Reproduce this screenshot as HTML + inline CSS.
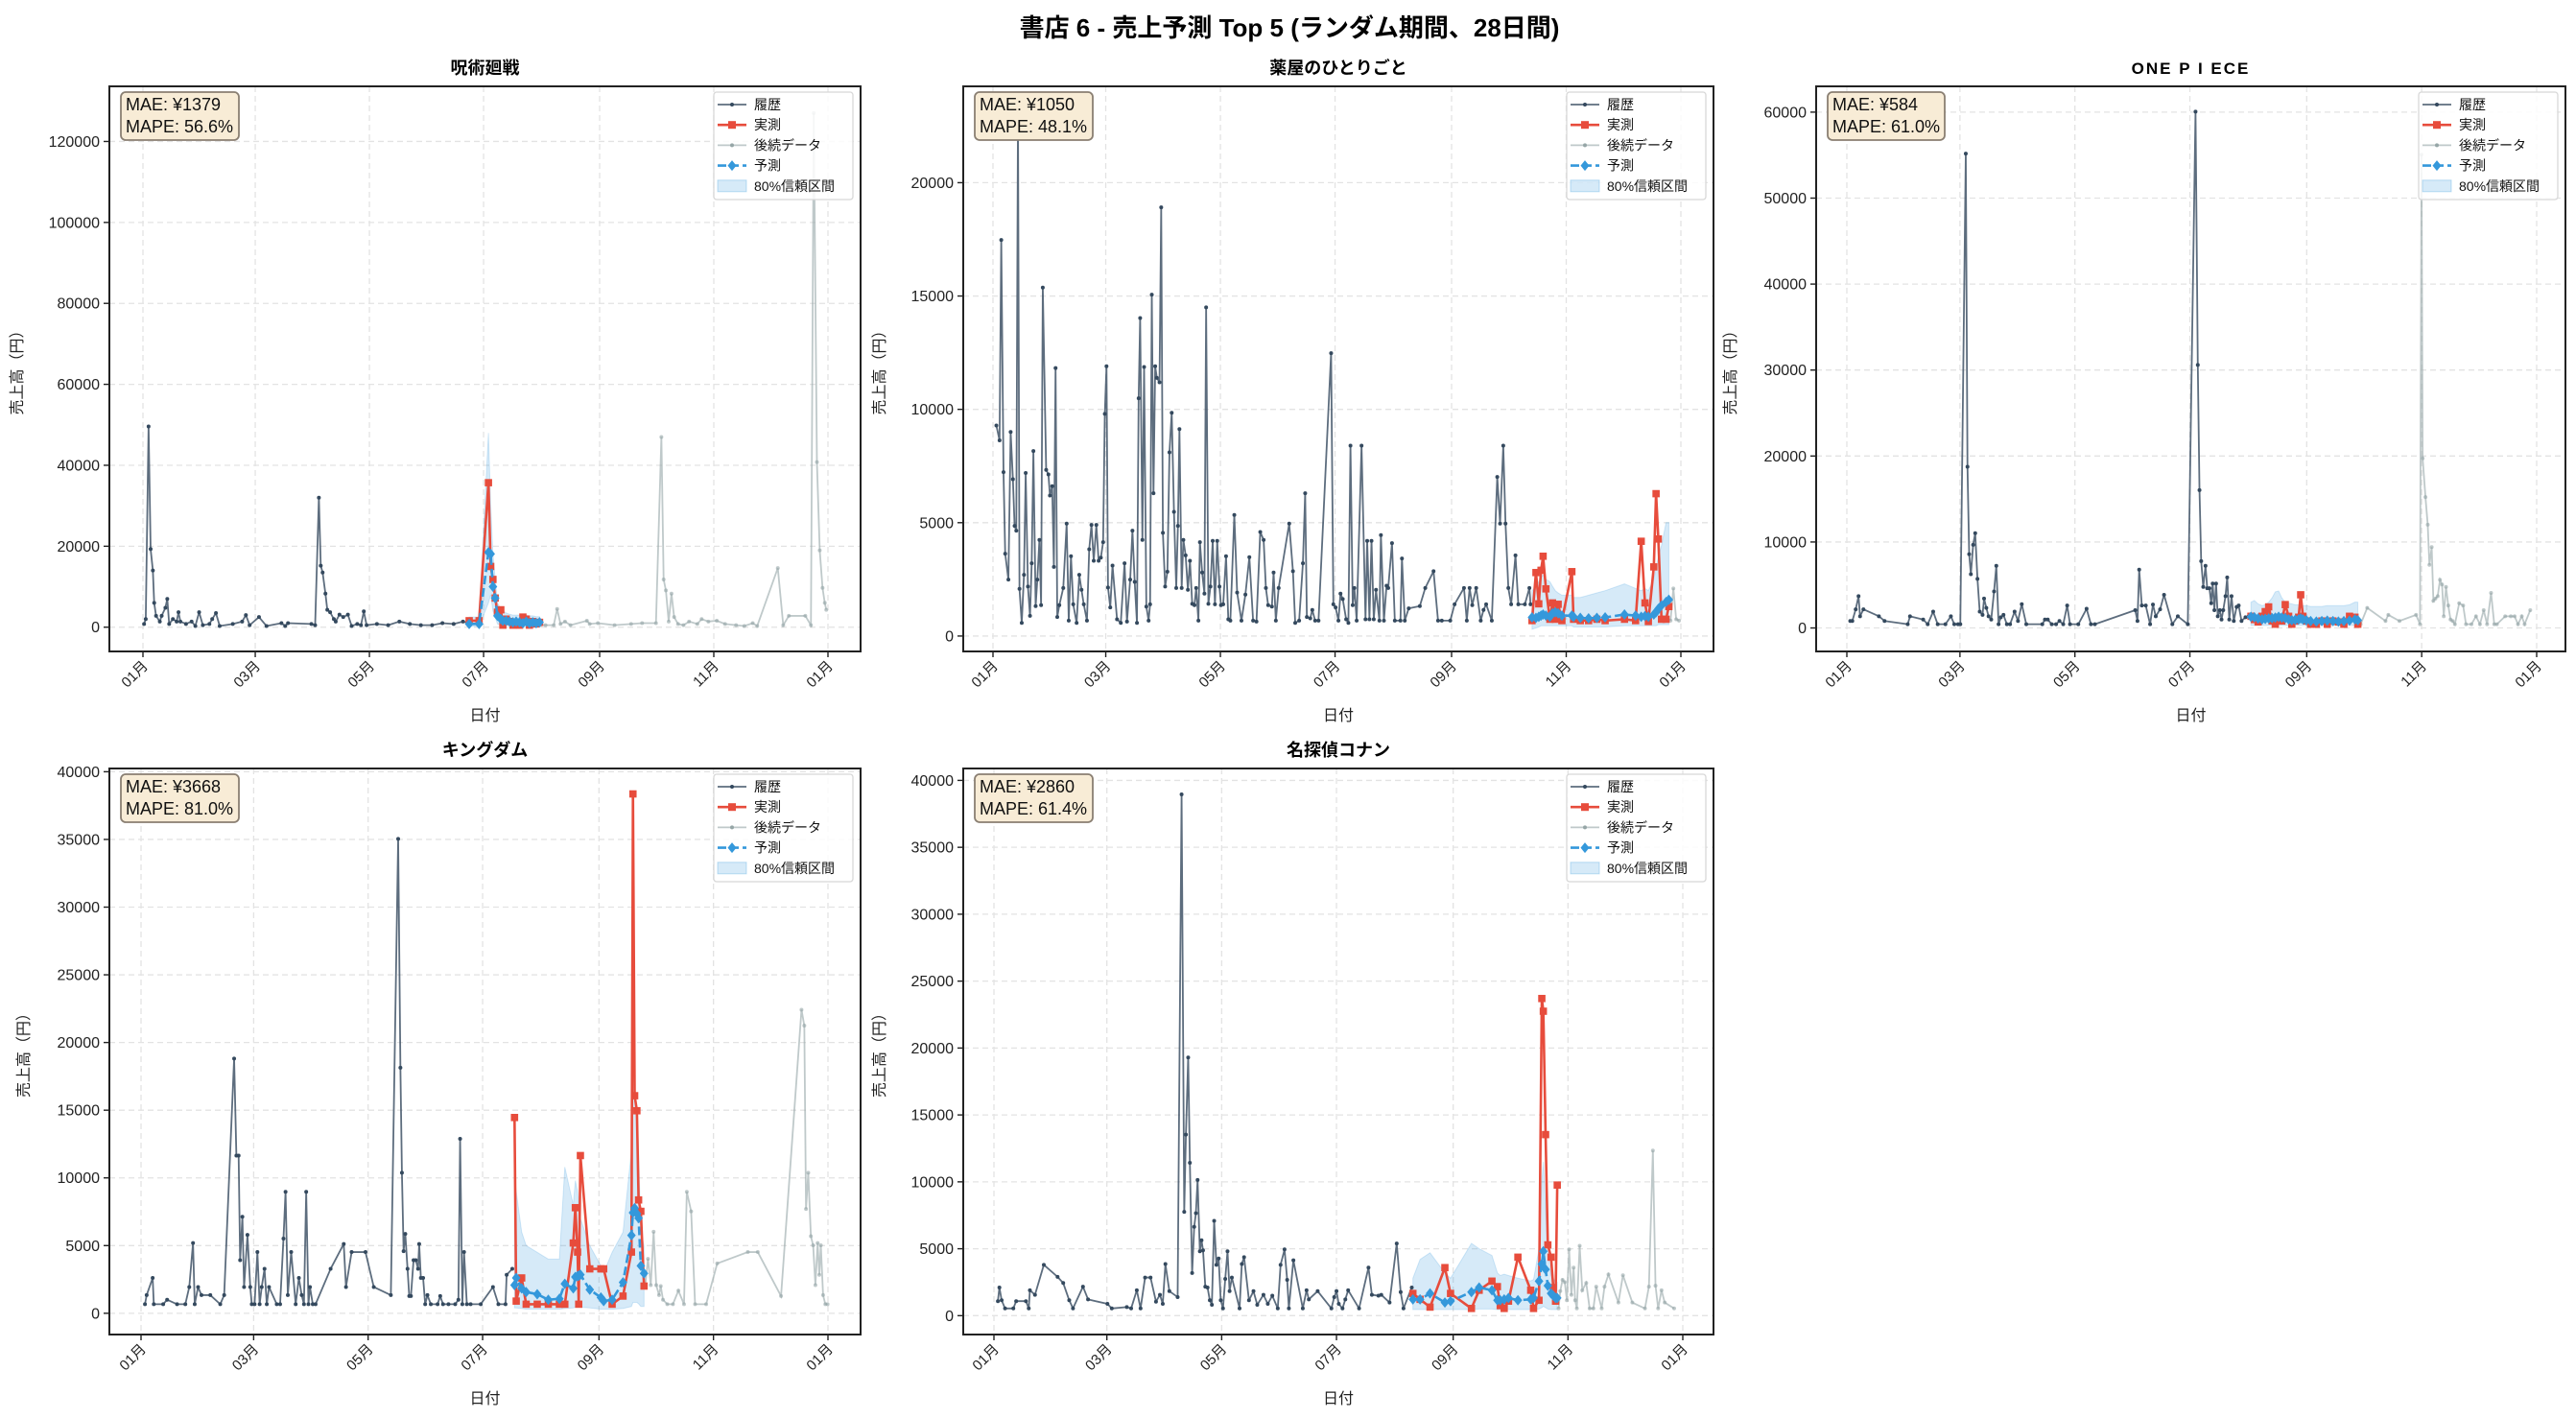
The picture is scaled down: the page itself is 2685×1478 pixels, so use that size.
<!DOCTYPE html>
<html><head><meta charset="utf-8">
<style>
html,body{margin:0;padding:0;background:#fff;}
svg{display:block;font-family:"Liberation Sans","Noto Sans CJK JP",sans-serif;}
</style></head>
<body>
<svg id="fig" width="2685" height="1478" viewBox="0 0 2685 1478" xmlns="http://www.w3.org/2000/svg">
<rect x="0" y="0" width="2685" height="1478" fill="#fff"/>
<text x="1344" y="38" text-anchor="middle" font-size="26" font-weight="bold" fill="#000">書店 6 - 売上予測 Top 5 (ランダム期間、28日間)</text>
</svg>
<script>
// ---------- tick data ----------
const xTickDays = [0,60,121,182,244,305,366];
const xTickLabels = ["01月","03月","05月","07月","09月","11月","01月"];

// ---------- Panel 1: 呪術廻戦 ----------
const p1HistDays=[0.6,1.5,3,4.1,5.3,6,7,9,10,12,13,14,16,18,19,20,23,26,28,30,32,35.5,37,39,41,48,53,55,57,62,66,74,76,77.5,90,92,94,95,96,97.5,98.5,100,102,103,105,107,109.5,111.5,114.5,116.5,118,119.5,125,131,137,142.6,148.5,154.5,160,166,171,174];
const p1HistVals=[800,2000,49600,19300,14000,6000,2800,1400,2800,4800,7000,800,2000,1400,3700,1400,800,1400,300,3700,500,800,2000,3500,300,800,1400,3000,500,2500,300,1000,300,1000,800,500,32000,15200,13500,8300,4300,3700,2000,1400,3100,2500,3100,300,800,500,3900,500,800,500,1400,800,500,500,1000,800,1400,1000];
const p1ActDays=[174.3,179.6,184.6,185.8,187,188.2,189.4,191.2,192.3,194.1,195.9,197.7,199.4,201.2,203,204.8,206.5,208.3,210.1,211.9];
const p1ActVals=[1600,1600,35700,15000,11800,7200,3700,4300,500,2000,1400,500,800,500,2500,2000,500,1400,800,1200];
const p1FcVals=[800,800,18500,18100,10000,7200,2800,2000,1600,1600,1400,1200,1400,1200,1000,1400,1000,1200,1000,1200];
const p1UpVals=[2500,2500,48000,30000,18000,12000,6000,4500,4000,3500,3200,3000,3000,3000,2800,3000,2800,2800,2600,2600];
const p1LoVals=[200,200,6000,8000,4000,2500,800,500,400,400,400,300,300,300,300,300,300,300,300,300];
const p1PostDays=[212.2,215.1,219.5,221.3,223.1,225.5,228.4,237.2,238.7,243.1,252,260.8,266.7,274.1,277,278.2,279.4,280.9,282.4,283.8,285.9,288.8,291.8,296.2,298.5,302.1,306.6,311,316.9,321.3,325.8,328.2,339.2,342.1,345.1,353.9,356.9,358.4,360.1,361.6,363.1,364.3,365.1];
const p1PostVals=[500,500,500,4500,800,1400,500,1600,800,1000,500,800,1000,1000,47000,11800,9100,1400,8300,2500,800,500,1400,800,2000,1400,1600,800,500,300,1000,300,14600,500,2800,2800,500,127000,40800,19000,9700,6000,4300];

// ---------- Panel 2: 薬屋のひとりごと ----------
const p2HistDays=[1.8,3.5,4.4,5.6,6.5,8.2,9.4,10.6,11.5,12.4,13.3,14.1,15.3,16.5,17.4,18.6,19.7,20.6,21.5,22.7,23.6,24.7,25.6,26.5,28.3,29.5,30.3,31.5,32.4,33.3,34.2,35.3,37.4,39.2,40.3,41.5,42.7,44.5,45.9,47.1,48.3,50,51.2,52.4,53.6,55,56.2,57.4,58.6,59.5,60.4,61.2,62.4,63.6,66,68,70,71.3,73,74.2,75.4,76.6,77.5,78.3,79.5,80.4,81.6,82.8,83.6,84.5,85.4,86.3,87.2,88.6,89.5,90.4,91.6,92.8,93.9,95.1,96.3,97.5,98.4,99.2,100.4,101.3,102.5,103.7,104.8,106,107.2,108.1,109.3,110.1,111.3,112.5,113.4,114.6,115.7,116.9,118.1,119.3,120.5,121.3,122.5,124,125.2,126.3,128.4,129.9,132.2,134.3,136.4,138.4,140.2,142.2,144,145.2,146.4,148.4,149.3,150.5,152,157.6,159.6,160.8,162.9,164.9,166.1,167,168.8,169.9,171.4,173.2,179.9,181.1,182.3,183.8,184.9,186.1,187.9,189.1,190.2,191.4,192.3,193.5,196.1,198.2,199.1,200.3,201.4,202.6,203.8,205.6,206.4,208,209.4,210.3,212.3,213.8,216.8,217.6,219.1,221.2,227.1,230,234.4,236.8,238.8,243.3,245.6,250.6,252.1,253.6,255,257.1,259.5,261,262.4,265.4,268.3,269.8,271.5,272.7,274.2,275.7,278,279.5,283,285.4,286];
const p2HistVals=[9290,8630,17470,7230,3630,2490,9000,6920,4860,4650,23150,2080,580,2700,7190,2180,890,3210,8160,1320,2490,4240,1360,15370,7330,7130,6200,6610,3050,11820,840,1360,2120,4960,680,3520,1400,580,2700,2040,1400,680,3830,4900,3320,4900,3320,3460,4140,9800,11900,2140,1260,3110,740,580,3210,640,2490,4650,2390,580,10490,14030,4240,11870,1300,680,1400,15060,6300,11900,11390,11190,18910,4550,2180,2840,8100,9850,5480,2120,4860,9130,2120,4240,3560,2040,3320,1420,1360,2120,680,4140,2800,1870,14500,1420,2180,4200,1400,4200,2180,1360,1400,3520,740,680,5340,1920,680,1830,3480,680,640,4590,4240,2120,1360,1300,2800,680,2120,4960,2860,580,680,3210,6300,840,780,1150,680,680,12480,1400,1260,680,1870,1630,740,580,8400,1360,2120,680,8400,740,4200,740,4200,740,2040,680,4450,680,2220,2120,4100,680,680,3420,680,1220,1320,2120,2860,680,680,680,1400,2120,680,2120,1360,2120,680,1150,1400,680,7020,4960,8400,4960,2120,1400,3560,1400,1400,2120,1400];
const p2ActDays=[286.8,288.9,290.4,291.6,292.7,294.2,296.3,297.7,299.2,300.7,302.7,308,308.9,312.5,316.9,321.3,325.7,336,341.9,344.9,346.9,348.7,351.6,352.8,354,355.7,358.1,359.6];
const p2ActVals=[680,2800,1420,2900,3520,2080,740,1460,740,1400,680,2840,740,680,680,740,680,740,680,4180,1460,640,3050,6280,4280,740,740,1300];
const p2FcVals=[820,800,850,900,950,900,850,1000,1050,1000,900,900,850,800,780,800,820,950,900,850,880,850,950,1050,1200,1350,1500,1600];
const p2UpVals=[2000,2200,2400,2600,2700,2500,2400,2200,2000,1900,1800,1800,1700,1700,1800,1900,2000,2300,2100,2000,2100,2000,2500,3000,3500,4000,5000,5000];
const p2LoVals=[300,350,400,450,450,450,450,450,450,450,450,450,400,400,400,400,400,450,450,450,450,450,450,450,500,500,500,500];
const p2PostDays=[360.5,362,363.5,365];
const p2PostVals=[680,2100,740,680];

// ---------- Panel 3: ONE PIECE ----------
const p3HistDays=[1.8,2.9,4.7,6.2,7,8.8,17,20,32.3,33.5,40.5,42.9,45.8,48.2,52.3,55.2,57,59,60.2,63.1,64,64.9,65.8,67,68.1,69.3,70.5,72,72.8,74,75.2,76.6,78.1,79.3,80.5,81.7,83.1,84.9,86.6,89,90.8,92.8,95.2,103.7,105.1,106.6,108.7,111,112.8,114.8,116.9,118.4,122.8,127.2,129.5,131.6,153,154.2,155.1,156.5,158.6,160.9,162.4,163.9,166.2,168.3,172.7,175.6,180.9,185,186.2,187.1,188,189.1,190.3,191.2,192.4,193.3,194.1,195,195.9,196.8,197.9,198.8,199.7,200.9,201.8,202.9,204.1,205.3,206.8,207.9,209.4,211.5,213.2];
const p3HistVals=[815,815,2170,3700,1360,2170,1360,815,435,1360,980,435,1900,435,435,1360,435,435,435,55170,18750,8590,6250,9670,11030,5710,1900,1520,3420,2340,1360,980,4240,7230,435,1250,1520,435,435,1900,815,2770,435,435,980,980,435,435,815,435,2610,435,435,2230,435,435,2070,815,6790,2610,2610,435,2720,1360,2170,3860,435,1360,435,60060,30600,16030,7770,4780,7230,4620,4620,2880,5160,2070,5160,1360,2070,980,2070,3700,5870,980,3700,815,2450,2610,815,1250,1360];
const p3ActDays=[214.4,216.2,218.2,220.3,222,223.8,225.6,227.3,229.1,230.8,232.6,234.4,236.1,237.9,239.7,240.8,242,243.8,246.1,249.1,252,254.9,257.9,260.8,263.7,266.7,269.6,271.1];
const p3ActVals=[1360,980,700,1360,1900,2450,815,435,1250,815,2720,1360,435,815,1250,3860,1360,815,435,435,815,435,815,700,435,1360,1250,435];
const p3FcVals=[1300,1250,1100,1000,1050,1100,1150,1200,1300,1200,1150,1000,900,950,1000,1100,1000,900,800,750,800,850,800,750,800,850,1000,900];
const p3UpVals=[3000,3200,2800,2600,2700,3000,3500,4200,4300,3500,3000,2900,2800,2700,2700,2700,2600,2600,2500,2500,2500,2600,2600,2600,2600,2700,3000,3000];
const p3LoVals=[300,300,300,300,300,300,300,300,300,300,300,300,300,300,300,300,300,300,300,300,300,300,300,300,300,300,300,300];
const p3PostDays=[272.6,276.1,285.8,287.3,293.2,302,304.1,304.9,305.5,307,308.2,309.1,310.3,311.2,312.3,313.5,314.7,315.8,316.7,317.9,319.1,320.3,321.4,322.6,324.9,327,328.5,331.4,333.8,335.9,337.9,339.7,341.8,343.5,344.9,349.3,352.3,354.3,356.1,358.1,359.6,362.6];
const p3PostVals=[435,2340,815,1520,815,1520,435,55060,19730,15220,12010,7340,9400,3150,3420,3700,5600,5050,1360,4780,2610,980,815,435,2880,2610,435,435,1360,435,2070,435,4080,435,435,1360,1360,1360,435,1360,435,2070];

// ---------- Panel 4: キングダム ----------
const p4HistDays=[2.1,3,6.2,6.8,11.8,13.9,19.2,23.6,25.7,27.7,28.6,30.4,32.2,36.9,42.2,44.3,49.6,50.8,52,52.8,54,54.9,56.7,58.2,59,60.5,62,63.2,64.3,65.8,67,68.2,72.3,74.1,75.9,77,78.2,80,82.4,84.1,85.6,86.8,88,89.2,90,91.5,93,101,108,109.2,112.2,119.6,124,133.1,137,138.2,139,139.9,140.8,142,142.9,143.8,145.2,146.4,147.6,148.2,149.1,150.3,151.4,152.6,154.4,158,159.4,160.9,163.8,167.4,169.1,170,171.2,172.1,173.6,175.6,181,187.5,190.4,194.2,194.8,197.8];
const p4HistVals=[670,1340,2610,670,670,1000,670,670,1940,5190,670,1940,1340,1340,670,1340,18810,11650,11650,3920,7130,1940,5790,1940,670,670,4520,670,1940,3280,670,1940,670,670,5520,8970,1340,4520,670,2610,1340,670,8970,670,1940,670,670,3280,5120,1940,4520,4520,1940,1340,35040,18140,10380,4590,5860,3280,1270,1270,3920,3920,3280,5120,2610,2610,670,1340,670,670,1270,670,670,670,1000,12890,670,4520,670,670,670,1940,670,670,2840,3280];
const p4ActDays=[199,199.9,202.8,205.2,211.1,217,222.9,225.8,230.3,231.4,232.6,233.2,234.1,239.1,245,246.5,251,256.8,261.3,262.1,263,264.2,265.1,266.3,268];
const p4ActVals=[14460,900,2610,670,670,670,670,670,5190,7800,4520,670,11650,3280,3280,3280,670,1270,4520,38360,16070,14960,8370,7530,2010];
const p4FcVals=[2080,2610,1840,1570,1410,1000,1070,2180,1840,2680,2740,2780,2850,1740,1170,900,1000,2280,5760,7430,7770,7360,7030,3510,2950];
const p4UpVals=[10000,9000,6000,5000,4500,4000,4000,10800,8000,9800,9000,8000,7000,5000,3500,3000,4500,6000,12000,20500,16000,15000,12000,6000,5000];
const p4LoVals=[400,400,350,300,300,300,300,350,400,450,450,450,450,400,300,300,300,350,500,800,800,800,700,500,500];
const p4PostDays=[268.6,270.1,271.6,273.1,274.5,276,276.9,278.1,280.4,283.4,286.3,289.3,290.8,293.1,295.2,301.1,307,323.3,328.6,341,351.9,353.4,354.3,355.5,356.9,358.1,359.3,360.5,361.4,362.2,363.4,364.6,365.8];
const p4PostVals=[2010,4020,2080,6020,2080,1340,2010,1000,670,670,1670,670,8970,7530,670,670,3680,4520,4520,1270,22420,21250,7700,10380,5690,5020,2080,5190,2840,5020,1340,670,670];

// ---------- Panel 5: 名探偵コナン ----------
const p5HistDays=[2.1,2.9,4.1,5.9,10.3,11.8,17,18.5,19.1,21.8,26.5,33.8,36.8,40,42,47.3,50,60.3,62.6,70.6,72.9,75.9,77.9,80.3,83.2,86.1,88.2,89.7,91.1,93.2,97.6,99.7,101.1,102,103.2,104.1,105.3,106.4,107.3,108.2,109.4,110.3,111.1,112.3,113.5,114.7,115.8,117,118.2,119.4,120.5,121.7,122.9,124.1,125.2,126.4,130.5,131.7,132.9,135.5,137.9,139.9,143.2,145.5,147.9,150.8,152.3,154.4,155.8,156.7,159.1,164.1,166.1,167.3,172,179.3,180.8,182,183.2,185.2,186.7,188.2,194,199,200.8,204.3,205.8,210.2,214,216.1,217.6,222];
const p5HistVals=[1085,2100,1150,540,540,1085,1085,540,1900,1560,3800,2900,2440,1150,540,2170,1220,880,540,640,540,1900,540,2850,2850,1050,1560,880,3860,1830,1390,38950,7760,13530,19290,11420,3190,6640,7660,10140,4810,5630,4880,2170,2100,1150,810,7090,3800,4270,1150,540,2750,4810,1830,2850,540,3860,4370,1150,1830,810,1560,880,1490,540,3800,4950,2680,540,4140,540,1900,1220,1830,540,1390,1830,880,540,1220,1900,540,3590,1560,1490,1560,980,5390,1760,540,2100];
const p5ActDays=[222.6,226.4,231.7,239.6,242.6,253.7,257.8,264.6,267.5,269,271.1,273.4,278.4,285.2,286.7,289.6,291.1,291.9,293.1,294.3,296,297.2,298.4,299.3];
const p5ActVals=[1660,1220,640,3590,1660,540,1900,2580,2170,750,540,1085,4370,1900,540,1150,23700,22750,13530,5290,4370,2100,1085,9760];
const p5FcVals=[1220,1220,1660,980,1085,1760,2100,1900,1150,1150,1220,1320,1150,1220,1320,2580,3860,4810,3460,2240,1660,1490,1320,1320];
const p5UpVals=[2800,4200,4700,3200,2800,5400,5000,4500,3200,3000,3100,3000,2800,2600,2700,5000,10000,11500,8000,5000,3000,2800,2500,2500];
const p5LoVals=[450,450,450,450,450,450,500,500,450,450,450,450,450,450,450,500,600,700,600,500,450,450,450,450];
const p5PostDays=[300,300.9,302.1,303.3,304.4,305.6,306.8,308,308.8,309.7,311.2,312.6,314.7,316.5,318.5,320,322.9,324.4,326.5,331.8,334.2,339.2,345.9,348,350.1,351.5,352.9,354.7,356.4,361.4];
const p5PostVals=[540,1830,2680,2510,1150,4950,1560,3590,1150,540,5220,1900,2440,540,540,2170,540,2170,3080,980,3020,980,540,2170,12340,2240,540,1900,980,540];

// ---------- layout ----------
const NS="http://www.w3.org/2000/svg";
const svg=document.getElementById('fig');
function mk(tag,attrs,parent){const e=document.createElementNS(NS,tag);for(const k in attrs)e.setAttribute(k,attrs[k]);(parent||svg).appendChild(e);return e;}

const panels=[
 {title:"呪術廻戦",l:114,t:90,r:897,b:679,x0:149,x1:863,ymin:-5990,ymax:133620,yticks:[0,20000,40000,60000,80000,100000,120000],mae:"MAE: ¥1379",mape:"MAPE: 56.6%",ylx:23,
  hd:p1HistDays,hv:p1HistVals,ad:p1ActDays,av:p1ActVals,fv:p1FcVals,uv:p1UpVals,lv:p1LoVals,pd:p1PostDays,pv:p1PostVals},
 {title:"薬屋のひとりごと",l:1004,t:90,r:1786,b:679,x0:1035,x1:1752,ymin:-680,ymax:24250,yticks:[0,5000,10000,15000,20000],mae:"MAE: ¥1050",mape:"MAPE: 48.1%",ylx:922,
  hd:p2HistDays,hv:p2HistVals,ad:p2ActDays,av:p2ActVals,fv:p2FcVals,uv:p2UpVals,lv:p2LoVals,pd:p2PostDays,pv:p2PostVals},
 {title:"ＯＮＥＰＩＥＣＥ",l:1893,t:90,r:2674,b:679,x0:1925,x1:2644,ymin:-2730,ymax:63000,yticks:[0,10000,20000,30000,40000,50000,60000],mae:"MAE: ¥584",mape:"MAPE: 61.0%",ylx:1809,
  hd:p3HistDays,hv:p3HistVals,ad:p3ActDays,av:p3ActVals,fv:p3FcVals,uv:p3UpVals,lv:p3LoVals,pd:p3PostDays,pv:p3PostVals},
 {title:"キングダム",l:114,t:801,r:897,b:1391,x0:147,x1:863,ymin:-1570,ymax:40240,yticks:[0,5000,10000,15000,20000,25000,30000,35000,40000],mae:"MAE: ¥3668",mape:"MAPE: 81.0%",ylx:30,
  hd:p4HistDays,hv:p4HistVals,ad:p4ActDays,av:p4ActVals,fv:p4FcVals,uv:p4UpVals,lv:p4LoVals,pd:p4PostDays,pv:p4PostVals},
 {title:"名探偵コナン",l:1004,t:801,r:1786,b:1391,x0:1036,x1:1754,ymin:-1410,ymax:40890,yticks:[0,5000,10000,15000,20000,25000,30000,35000,40000],mae:"MAE: ¥2860",mape:"MAPE: 61.4%",ylx:922,
  hd:p5HistDays,hv:p5HistVals,ad:p5ActDays,av:p5ActVals,fv:p5FcVals,uv:p5UpVals,lv:p5LoVals,pd:p5PostDays,pv:p5PostVals}
];

panels.forEach((p,pi)=>{
 const X=d=>p.x0+(d/366)*(p.x1-p.x0);
 const Y=v=>p.b-(v-p.ymin)/(p.ymax-p.ymin)*(p.b-p.t);
 const g=mk('g',{});
 
 
 const cid='clip'+pi;
 const cp=mk('clipPath',{id:cid},g);mk('rect',{x:p.l,y:p.t,width:p.r-p.l,height:p.b-p.t},cp);
 // grid
 const grid=mk('g',{stroke:'#e3e3e3','stroke-width':1.3,'stroke-dasharray':'6,4'},g);
 
 
 xTickDays.forEach(d=>mk('line',{x1:X(d),x2:X(d),y1:p.t,y2:p.b},grid));
 p.yticks.forEach(v=>mk('line',{x1:p.l,x2:p.r,y1:Y(v),y2:Y(v)},grid));
 const plot=mk('g',{'clip-path':'url(#'+cid+')'},g);
 // CI
 let pts=p.ad.map((d,i)=>X(d)+','+Y(p.uv[i]));
 for(let i=p.ad.length-1;i>=0;i--)pts.push(X(p.ad[i])+','+Y(p.lv[i]));
 const ci=mk('polygon',{points:pts.join(' '),fill:'#3498db','fill-opacity':0.2,stroke:'#3498db','stroke-opacity':0.2,'stroke-width':1},plot);
 
 
 // history
 const hl=mk('polyline',{points:p.hd.map((d,i)=>X(d)+','+Y(p.hv[i])).join(' '),fill:'none',stroke:'#34495e','stroke-opacity':0.8,'stroke-width':1.8,'stroke-linejoin':'round'},plot);
 
 
 p.hd.forEach((d,i)=>{const c=mk('circle',{cx:X(d),cy:Y(p.hv[i]),r:2,fill:'#34495e'},plot);
  
  });
 // post
 const pl=mk('polyline',{points:p.pd.map((d,i)=>X(d)+','+Y(p.pv[i])).join(' '),fill:'none',stroke:'#95a5a6','stroke-opacity':0.6,'stroke-width':1.8},plot);
 
 
 p.pd.forEach((d,i)=>{const c=mk('circle',{cx:X(d),cy:Y(p.pv[i]),r:2,fill:'#95a5a6','fill-opacity':0.6},plot);
  
  });
 // actual
 const al=mk('polyline',{points:p.ad.map((d,i)=>X(d)+','+Y(p.av[i])).join(' '),fill:'none',stroke:'#e74c3c','stroke-width':2.6,'stroke-linejoin':'round'},plot);
 
 
 p.ad.forEach((d,i)=>{const s=mk('rect',{x:X(d)-3.8,y:Y(p.av[i])-3.8,width:7.6,height:7.6,fill:'#e74c3c'},plot);
  
  });
 // forecast
 const fl=mk('polyline',{points:p.ad.map((d,i)=>X(d)+','+Y(p.fv[i])).join(' '),fill:'none',stroke:'#3498db','stroke-width':2.6,'stroke-dasharray':'9,4'},plot);
 
 
 p.ad.forEach((d,i)=>{const x=X(d),y=Y(p.fv[i]);const m=mk('polygon',{points:`${x},${y-5.5} ${x+4.5},${y} ${x},${y+5.5} ${x-4.5},${y}`,fill:'#3498db'},plot);
  
  });
 // frame
 const fr=mk('rect',{x:p.l,y:p.t,width:p.r-p.l,height:p.b-p.t,fill:'none',stroke:'#222','stroke-width':2},g);
 
 
 // x ticks
 xTickDays.forEach((d,i)=>{const x=X(d);mk('line',{x1:x,x2:x,y1:p.b,y2:p.b+6,stroke:'#222','stroke-width':1.4},g);
  const t=mk('text',{x:x+6,y:p.b+16,'font-size':15,'text-anchor':'end',transform:`rotate(-45 ${x+6} ${p.b+16})`,fill:'#222'},g);
  t.textContent=xTickLabels[i];
  
  });
 p.yticks.forEach(v=>{const y=Y(v);mk('line',{x1:p.l-6,x2:p.l,y1:y,y2:y,stroke:'#222','stroke-width':1.4},g);
  const t=mk('text',{x:p.l-10,y:y+5.5,'font-size':16,'text-anchor':'end',fill:'#222'},g);
  t.textContent=v;
  
  });
 const cx=(p.l+p.r)/2;
 const tt=mk('text',{x:cx,y:p.t-13,'font-size':pi==2?17:18,'font-weight':'bold','text-anchor':'middle',fill:'#000','letter-spacing':pi==2?2:0},g);
 tt.textContent=pi==2?"ONE P I ECE":p.title;
 
 
 const xl=mk('text',{x:cx,y:p.b+72,'font-size':16,'text-anchor':'middle',fill:'#222'},g);
 xl.textContent="日付";
 
 
 const cy=(p.t+p.b)/2;
 const yl=mk('text',{x:p.ylx,y:cy,'font-size':16,'text-anchor':'middle',transform:`rotate(-90 ${p.ylx} ${cy})`,fill:'#222'},g);
 yl.textContent="売上高（円）";
 
 
 // metrics box
 const mb=mk('g',{},g);
 
 
 mk('rect',{x:p.l+12,y:p.t+6,width:pi==2?122:123,height:50,rx:5,fill:'#f8ecd6',stroke:'#8a7f72','stroke-width':1.8},mb);
 const m1=mk('text',{x:p.l+17,y:p.t+25,'font-size':18,fill:'#111'},mb);m1.textContent=p.mae;
 const m2=mk('text',{x:p.l+17,y:p.t+48,'font-size':18,fill:'#111'},mb);m2.textContent=p.mape;
 // legend
 const lg=mk('g',{},g);
 
 
 const lx=p.r-153, ly=p.t+6;
 mk('rect',{x:lx,y:ly,width:145,height:112,rx:3,fill:'#fff','fill-opacity':0.85,stroke:'#d8d8d8','stroke-width':1.3},lg);
 const labels=["履歴","実測","後続データ","予測","80%信頼区間"];
 labels.forEach((lab,i)=>{const y=ly+13+i*21.2;const hx=lx+4;
  if(i==0){mk('line',{x1:hx,x2:hx+30,y1:y,y2:y,stroke:'#34495e','stroke-width':1.8,'stroke-opacity':0.8},lg);mk('circle',{cx:hx+15,cy:y,r:2,fill:'#34495e'},lg);}
  if(i==1){mk('line',{x1:hx,x2:hx+30,y1:y,y2:y,stroke:'#e74c3c','stroke-width':2.6},lg);mk('rect',{x:hx+11,y:y-4,width:8,height:8,fill:'#e74c3c'},lg);}
  if(i==2){mk('line',{x1:hx,x2:hx+30,y1:y,y2:y,stroke:'#95a5a6','stroke-width':1.8,'stroke-opacity':0.6},lg);mk('circle',{cx:hx+15,cy:y,r:2,fill:'#95a5a6'},lg);}
  if(i==3){mk('line',{x1:hx,x2:hx+30,y1:y,y2:y,stroke:'#3498db','stroke-width':2.6,'stroke-dasharray':'9,4'},lg);mk('polygon',{points:`${hx+15},${y-5.5} ${hx+19.5},${y} ${hx+15},${y+5.5} ${hx+10.5},${y}`,fill:'#3498db'},lg);}
  if(i==4){mk('rect',{x:hx,y:y-6,width:30,height:12,fill:'#3498db','fill-opacity':0.2,stroke:'#3498db','stroke-opacity':0.3},lg);}
  const t=mk('text',{x:lx+42,y:y+5,'font-size':14,fill:'#111'},lg);t.textContent=lab;
  
  });
});
</script>
</body></html>
